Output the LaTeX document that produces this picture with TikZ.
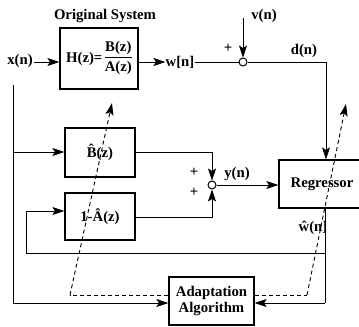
\documentclass[tikz,border=0pt]{standalone}
\usepackage{fontspec}
\setmainfont{Liberation Serif}
\usetikzlibrary{arrows.meta}
\tikzset{
  every node/.style={font=\fontsize{14.8}{15.5}\selectfont\bfseries, inner sep=0pt},
  blk/.style={draw, line width=1.2bp},
  sumc/.style={draw, circle, line width=1bp, minimum size=8bp},
  wire/.style={line width=0.9bp},
  arr/.style={wire, -{Stealth[length=12bp,width=8bp,inset=2.5bp]}},
  darr/.style={wire, dashed, dash pattern=on 4bp off 3bp, -{Stealth[length=12bp,width=8bp,inset=2.5bp]}},
  dwire/.style={wire, dashed, dash pattern=on 4bp off 3bp}
}
\begin{document}
\begin{tikzpicture}[x=1bp,y=-1bp]
\clip (0,0) rectangle (359,327);
\useasboundingbox (0,0) rectangle (359,327);
% blocks
\node[blk, minimum width=78bp, minimum height=61bp] (H) at (99,58.5) {H(z)=\,\begin{tabular}{@{}c@{}}B(z)\\[1bp]\hline\rule{0pt}{14bp}A(z)\end{tabular}};
\node (title) at (105,16) {Original System};
\node[blk, minimum width=70bp, minimum height=49bp] (B) at (100,152.5) {\^{B}(z)};
\node[blk, minimum width=70bp, minimum height=47bp] (A) at (100,216.5) {1-\^{A}(z)};
\node[blk, minimum width=86bp, minimum height=48bp] (R) at (322,184) {Regressor};
\node[blk, minimum width=85bp, minimum height=48bp, align=center] (AD) at (211.5,301) {Adaptation\\Algorithm};
% summers
\node[sumc] (S1) at (243,62) {};
\node[sumc] (S2) at (212,185) {};
% labels
\node (xn) at (20,61) {x(n)};
\node (wn) at (180,62) {w[n]};
\node (vn) at (264,16) {v(n)};
\node (dn) at (304,51) {d(n)};
\node (yn) at (237,174) {y(n)};
\node (what) at (313,228) {\^{w}(n]};
\node (p1) at (228,48) {+};
\node (p2) at (194,172) {+};
\node (p3) at (194,192) {+};
% coordinates
\coordinate (xin) at (34,62);
\coordinate (xtop) at (13,85);
\coordinate (xbot) at (13,303);
\coordinate (xb) at (13,152);
\coordinate (vtop) at (243,18);
\coordinate (dcor) at (326,62);
\coordinate (Bc) at (212,152);
\coordinate (Ac) at (212,217);
\coordinate (rb) at (325,303);
\coordinate (fbr) at (325,253);
\coordinate (fbl) at (26,253);
\coordinate (fbu) at (26,211);
\coordinate (d1a) at (70,295);
\coordinate (d1t) at (112,103);
\coordinate (d2a) at (307,295);
\coordinate (d2t) at (346,104);
% connectors
\draw[arr] (xin) -- (H.west |- xin);
\draw[arr] (H.east |- xin) -- (wn.west);
\draw[wire] (wn.east) -- (S1.west);
\draw[arr] (vtop) -- (S1.north);
\draw[arr] (S1.east) -- (dcor) -- (dcor |- R.north);
\draw[wire] (xtop) -- (xbot);
\draw[arr] (xbot) -- (AD.west |- xbot);
\draw[arr] (xb) -- (B.west |- xb);
\draw[arr] (B.east |- Bc) -- (Bc) -- (S2.north);
\draw[arr] (A.east |- Ac) -- (Ac) -- (S2.south);
\draw[arr] (S2.east) -- (R.west |- S2);
\draw[wire] (rb |- R.south) -- (rb);
\draw[arr] (rb) -- (AD.east |- rb);
\draw[wire] (fbr) -- (fbl) -- (fbu);
\draw[arr] (fbu) -- (A.west |- fbu);
\draw[dwire] (AD.west |- d1a) -- (d1a);
\draw[darr] (d1a) -- (d1t);
\draw[dwire] (AD.east |- d2a) -- (d2a);
\draw[darr] (d2a) -- (d2t);
\end{tikzpicture}
\end{document}
